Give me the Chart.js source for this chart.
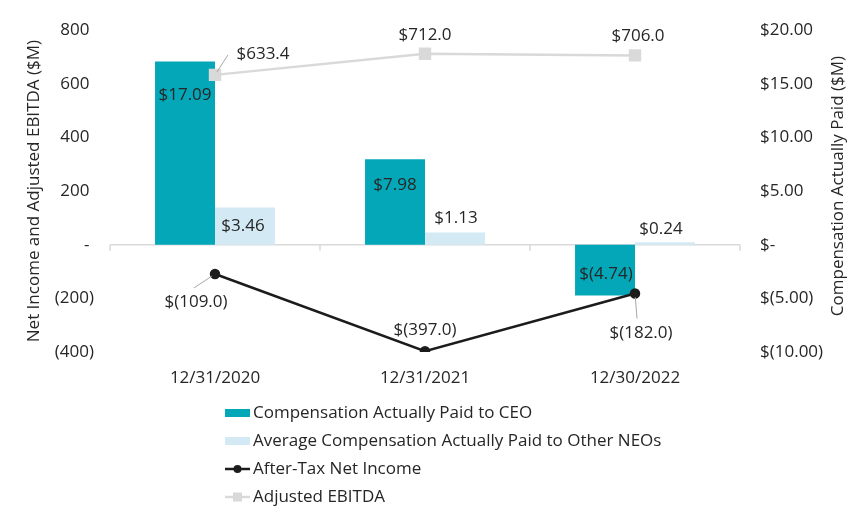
<!DOCTYPE html>
<html>
<head>
<meta charset="utf-8">
<script src="https://cdn.jsdelivr.net/npm/chart.js@4.4.1/dist/chart.umd.min.js"></script>
<style>
  body { margin: 0; background: #fff; }
</style>
</head>
<body>
<canvas id="payChart" width="864" height="528"></canvas>
<script>
const periods = ['12/31/2020', '12/31/2021', '12/30/2022'];
const ceoComp = [17.09, 7.98, -4.74];
const neoComp = [3.46, 1.13, 0.24];
const netIncome = [-109.0, -397.0, -182.0];
const adjEbitda = [633.4, 712.0, 706.0];
const leftRange = [-400, 800, 200];   // min, max, step ($M)
const rightRange = [-10, 20, 5];

const FONT = '"Open Sans", "Noto Sans", sans-serif';
const FSIZE = 17;
const TEXT = '#262626';

// where each value label sits relative to its bar end / point: [dx, dy, leaderDx, leaderDy]
const labelPos = [
    [[0, 34], [0, 26], [1, -21]],
    [[-2, 19], [1, -14], [-4, -13]],
    [[-19, 28, -21, 14], [0, -21], [6, 40, 2, 25]],
    [[48, -21, 13, -20], [0, -19], [3, -19]]
];

function money(v, digits) {
    if (v < 0) return '$(' + Math.abs(v).toFixed(digits) + ')';
    return '$' + v.toFixed(digits);
}

const valueLabels = {
    id: 'valueLabels',
    afterDatasetsDraw(chart) {
        const ctx = chart.ctx;
        ctx.save();
        ctx.font = FSIZE + 'px ' + FONT;
        ctx.textAlign = 'center';
        ctx.textBaseline = 'middle';
        chart.data.datasets.forEach((ds, i) => {
            const meta = chart.getDatasetMeta(i);
            meta.data.forEach((el, j) => {
                const p = labelPos[i][j];
                if (p.length > 2) {
                    ctx.strokeStyle = '#a6a6a6';
                    ctx.lineWidth = 1;
                    ctx.beginPath();
                    ctx.moveTo(el.x + p[2] * 0.15, el.y + p[3] * 0.15);
                    ctx.lineTo(el.x + p[2], el.y + p[3]);
                    ctx.stroke();
                }
                ctx.fillStyle = TEXT;
                ctx.fillText(money(ds.data[j], ds.type === 'bar' ? 2 : 1), el.x + p[0], el.y + p[1]);
            });
        });
        ctx.restore();
    }
};

// zero line with small category ticks, right axis title, stacked legend
const decorations = {
    id: 'decorations',
    beforeDatasetsDraw(chart) {
        const ctx = chart.ctx;
        const area = chart.chartArea;
        const xs = chart.scales.x;
        const y0 = chart.scales.y.getPixelForValue(0);
        const w = xs.getPixelForValue(1) - xs.getPixelForValue(0);
        ctx.save();
        ctx.strokeStyle = '#d9d9d9';
        ctx.lineWidth = 1.5;
        ctx.beginPath();
        ctx.moveTo(area.left, y0);
        ctx.lineTo(area.right, y0);
        for (let i = 0; i <= periods.length; i++) {
            const x = xs.getPixelForValue(i) - w / 2;
            ctx.moveTo(x, y0);
            ctx.lineTo(x, y0 + 6);
        }
        ctx.stroke();
        ctx.restore();
    },
    afterDraw(chart) {
        const ctx = chart.ctx;
        const area = chart.chartArea;
        const y1 = chart.scales.y1;
        ctx.save();
        ctx.font = FSIZE + 'px ' + FONT;
        ctx.fillStyle = TEXT;
        ctx.textAlign = 'center';
        ctx.textBaseline = 'middle';
        ctx.translate(y1.right - 26, (area.top + area.bottom) / 2 - 5);
        ctx.rotate(-Math.PI / 2);
        ctx.fillText('Compensation Actually Paid ($M)', 0, 0);
        ctx.restore();

        // legend, one entry per row
        ctx.save();
        ctx.font = FSIZE + 'px ' + FONT;
        ctx.textBaseline = 'middle';
        ctx.textAlign = 'left';
        const x0 = 225;
        chart.data.datasets.forEach((ds, i) => {
            const y = area.bottom + 61 + i * 28;
            if (ds.type === 'bar') {
                ctx.fillStyle = ds.backgroundColor;
                ctx.fillRect(x0, y - 4, 25, 8);
            } else {
                ctx.strokeStyle = ds.borderColor;
                ctx.lineWidth = ds.borderWidth;
                ctx.beginPath();
                ctx.moveTo(x0, y);
                ctx.lineTo(x0 + 25, y);
                ctx.stroke();
                ctx.fillStyle = ds.pointBackgroundColor;
                if (ds.pointStyle === 'rect') {
                    ctx.fillRect(x0 + 8, y - 4.5, 9, 9);
                } else {
                    ctx.beginPath();
                    ctx.arc(x0 + 12.5, y, 4, 0, Math.PI * 2);
                    ctx.fill();
                }
            }
            ctx.fillStyle = TEXT;
            ctx.fillText(ds.label, x0 + 28, y);
        });
        ctx.restore();
    }
};

new Chart(document.getElementById('payChart'), {
    data: {
        labels: periods,
        datasets: [
            {
                type: 'bar',
                label: 'Compensation Actually Paid to CEO',
                data: ceoComp,
                backgroundColor: '#03a7b8',
                yAxisID: 'y1',
                barPercentage: 1,
                categoryPercentage: 0.571,
                order: 1
            },
            {
                type: 'bar',
                label: 'Average Compensation Actually Paid to Other NEOs',
                data: neoComp,
                backgroundColor: '#d3eaf5',
                yAxisID: 'y1',
                barPercentage: 1,
                categoryPercentage: 0.571,
                order: 1
            },
            {
                type: 'line',
                label: 'After-Tax Net Income',
                data: netIncome,
                borderColor: '#1c1c1c',
                borderWidth: 2.5,
                pointRadius: 4,
                pointBackgroundColor: '#1c1c1c',
                pointBorderColor: '#1c1c1c',
                yAxisID: 'y',
                tension: 0,
                order: 0
            },
            {
                type: 'line',
                label: 'Adjusted EBITDA',
                data: adjEbitda,
                borderColor: '#d9d9d9',
                borderWidth: 2.5,
                pointStyle: 'rect',
                pointRadius: 7,
                pointBackgroundColor: '#d9d9d9',
                pointBorderColor: '#d9d9d9',
                yAxisID: 'y',
                tension: 0,
                order: 0
            }
        ]
    },
    options: {
        responsive: false,
        animation: false,
        layout: { padding: { left: 0, right: 0, top: 27, bottom: 136 } },
        plugins: {
            legend: { display: false },
            tooltip: { enabled: false }
        },
        scales: {
            x: {
                offset: true,
                grid: { display: false, drawTicks: false },
                border: { display: false },
                ticks: { padding: 16, color: TEXT, font: { family: FONT, size: FSIZE } },
                afterFit: s => { s.height = 40; }
            },
            y: {
                position: 'left',
                min: leftRange[0],
                max: leftRange[1],
                grid: { display: false, drawTicks: false },
                border: { display: false },
                ticks: {
                    stepSize: leftRange[2],
                    padding: 16,
                    color: TEXT,
                    font: { family: FONT, size: FSIZE },
                    callback: v => v < 0 ? '(' + Math.abs(v) + ')' : (v === 0 ? '-\u2008' : v + '\u2008')
                },
                title: {
                    display: true,
                    text: 'Net Income and Adjusted EBITDA ($M)',
                    color: TEXT,
                    font: { family: FONT, size: FSIZE },
                    padding: { top: 24, bottom: 0 }
                },
                afterFit: s => { s.width = 110; }
            },
            y1: {
                position: 'right',
                min: rightRange[0],
                max: rightRange[1],
                grid: { display: false, drawTicks: false },
                border: { display: false },
                ticks: {
                    stepSize: rightRange[2],
                    padding: 20,
                    color: TEXT,
                    font: { family: FONT, size: FSIZE },
                    callback: v => v === 0 ? '$-' : money(v, 2)
                },
                afterFit: s => { s.width = 124; }
            }
        }
    },
    plugins: [valueLabels, decorations]
});
</script>
</body>
</html>
